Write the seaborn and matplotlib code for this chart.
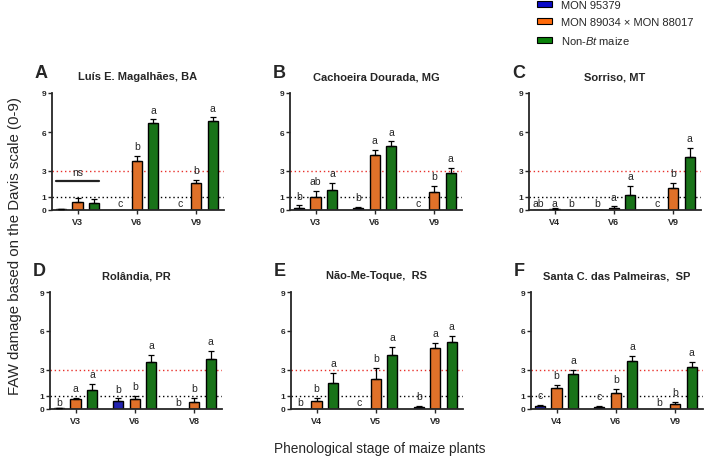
import numpy as np
import pandas as pd
import matplotlib
matplotlib.use('Agg')
import matplotlib.pyplot as plt
import seaborn as sns

# ─── Data (mean damage score ± SE)
#
CULTIVARS = ['MON 95379', 'MON 89034 × MON 88017', r'Non-$\mathit{Bt}$ maize']
COLORS = ['#0a0ac8', '#ff6a0a', '#0a820a']

panel_letters = ['A', 'B', 'C', 'D', 'E', 'F']
sites = ['Luís E. Magalhães, BA', 'Cachoeira Dourada, MG', 'Sorriso, MT',
         'Rolândia, PR', 'Não-Me-Toque,  RS', 'Santa C. das Palmeiras,  SP']
stages = [['V3', 'V6', 'V9'], ['V3', 'V6', 'V9'], ['V4', 'V6', 'V9'],
          ['V3', 'V6', 'V8'], ['V4', 'V5', 'V9'], ['V4', 'V6', 'V9']]

mon95379_mean = [[0.05, 0.0, 0.03], [0.18, 0.13, 0.03], [0.0, 0.0, 0.0],
                 [0.05, 0.59, 0.0], [0.0, 0.0, 0.15], [0.21, 0.15, 0.03]]
mon95379_se = [[0.03, 0.0, 0.0], [0.18, 0.10, 0.0], [0.0, 0.0, 0.0],
               [0.03, 0.23, 0.0], [0.0, 0.0, 0.11], [0.10, 0.11, 0.0]]
mon89034_mean = [[0.62, 3.78, 2.06], [0.98, 4.24, 1.36], [0.08, 0.13, 1.67],
                 [0.79, 0.74, 0.56], [0.64, 2.34, 4.68], [1.65, 1.26, 0.41]]
mon89034_se = [[0.33, 0.38, 0.23], [0.51, 0.36, 0.47], [0.10, 0.15, 0.41],
               [0.08, 0.28, 0.31], [0.23, 0.85, 0.38], [0.20, 0.26, 0.16]]
nonbt_mean = [[0.54, 6.66, 6.84], [1.52, 4.94, 2.85], [0.0, 1.18, 4.06],
              [1.43, 3.63, 3.86], [2.03, 4.14, 5.19], [2.72, 3.68, 3.24]]
nonbt_se = [[0.28, 0.31, 0.28], [0.58, 0.33, 0.39], [0.0, 0.65, 0.72],
            [0.51, 0.54, 0.62], [0.77, 0.62, 0.44], [0.31, 0.43, 0.41]]

mon95379_sig = [['', 'c', 'c'], ['b', 'b', 'c'], ['ab', 'b', 'c'],
                ['b', 'b', 'b'], ['b', 'c', 'b'], ['c', 'c', 'b']]
mon89034_sig = [['', 'b', 'b'], ['ab', 'a', 'b'], ['a', 'a', 'b'],
                ['a', 'b', 'b'], ['b', 'b', 'a'], ['b', 'b', 'b']]
nonbt_sig = [['', 'a', 'a'], ['a', 'a', 'a'], ['b', 'a', 'a'],
             ['a', 'a', 'a'], ['a', 'a', 'a'], ['a', 'a', 'a']]

means = [mon95379_mean, mon89034_mean, nonbt_mean]
ses = [mon95379_se, mon89034_se, nonbt_se]
sigs = [mon95379_sig, mon89034_sig, nonbt_sig]

sns.set_style('ticks')
plt.rcParams['font.family'] = ['Liberation Sans', 'DejaVu Sans']
plt.rcParams['mathtext.fontset'] = 'custom'
plt.rcParams['mathtext.rm'] = 'Liberation Sans'
plt.rcParams['mathtext.it'] = 'Liberation Sans:italic'

W, H = 709, 460
fig = plt.figure(figsize=(W / 100, H / 100), dpi=100)

lefts = [[52, 290, 529], [50, 291, 531]]
tops = [94, 293]
ax_w, ax_h = 172, 117

for p in range(6):
    row, col = divmod(p, 3)
    l, t = lefts[row][col], tops[row]
    ax = fig.add_axes([l / W, 1 - (t + ax_h) / H, ax_w / W, ax_h / H])

    rows = []
    for c in range(3):
        for s in range(3):
            rows.append({'stage': stages[p][s], 'cultivar': CULTIVARS[c],
                         'damage': means[c][p][s]})
    df = pd.DataFrame(rows)

    sns.barplot(data=df, x='stage', y='damage', hue='cultivar', hue_order=CULTIVARS,
                palette=COLORS, width=0.83, gap=0.39, edgecolor='black',
                linewidth=1.0, errorbar=None, legend=False, ax=ax)
    bar_sets = list(ax.containers)

    ax.axhline(1, color='black', linestyle=(0, (1, 2)), lw=1.0, zorder=0.5)
    ax.axhline(3, color='#e8302a', linestyle=(0, (1, 2)), lw=1.0, zorder=0.5)

    # error bars (upper only) and significance letters
    for c, cont in enumerate(bar_sets):
        for s, bar in enumerate(cont.patches):
            xc = bar.get_x() + bar.get_width() / 2
            m, e = means[c][p][s], ses[c][p][s]
            if e > 0:
                ax.errorbar(xc, m, yerr=[[0], [e]], fmt='none', ecolor='black',
                            elinewidth=0.9, capsize=2.2, capthick=0.9, zorder=3)
            lab = sigs[c][p][s]
            if lab:
                ty = 0.5 if m < 0.1 else m + e + 0.75
                ax.text(xc, ty, lab, ha='center', va='center', fontsize=7.5)

    if p == 0:
        b0 = bar_sets[0].patches[0]
        b2 = bar_sets[2].patches[0]
        ax.plot([b0.get_x(), b2.get_x() + b2.get_width()], [2.26, 2.26],
                color='#222222', lw=1.6)
        ax.text((b0.get_x() + b2.get_x() + b2.get_width()) / 2, 2.95, 'ns',
                ha='center', va='center', fontsize=7.5)

    ax.set_xlim(-0.43, 2.47)
    ax.set_ylim(0, 9)
    ax.set_yticks([0, 1, 3, 6, 9])
    ax.set_xlabel('')
    ax.set_ylabel('')
    for lbl in ax.get_xticklabels() + ax.get_yticklabels():
        lbl.set_fontweight('bold')
    ax.tick_params(axis='y', labelsize=6, length=3, width=1, pad=1)
    ax.tick_params(axis='x', labelsize=6.5, length=3, width=1, pad=2)
    sns.despine(ax=ax)
    for sp in ['left', 'bottom']:
        ax.spines[sp].set_linewidth(1.3)

    ax.set_title(sites[p], fontsize=8, fontweight='bold', pad=10)
    fig.text((l - 17) / W, 1 - (t - 21) / H, panel_letters[p], fontsize=13,
             fontweight='bold', ha='left', va='center')

# legend at top right
handles = [plt.Rectangle((0, 0), 1, 1, facecolor=col, edgecolor='black', lw=0.8)
           for col in COLORS]
fig.legend(handles, CULTIVARS, loc='upper left', bbox_to_anchor=(537 / W, 1 - 1 / H),
           frameon=False, fontsize=8, handlelength=1.35, handleheight=0.5,
           handletextpad=0.85, labelspacing=0.62, borderpad=0, borderaxespad=0)

fig.text(15 / W, 1 - 246 / H, 'FAW damage based on the Davis scale (0-9)', rotation=90,
         ha='center', va='center', fontsize=10.8)
fig.text(380 / W, 1 - 449 / H, 'Phenological stage of maize plants',
         ha='center', va='center', fontsize=9.8)

plt.savefig('out.png', dpi=100)
plt.close(fig)
